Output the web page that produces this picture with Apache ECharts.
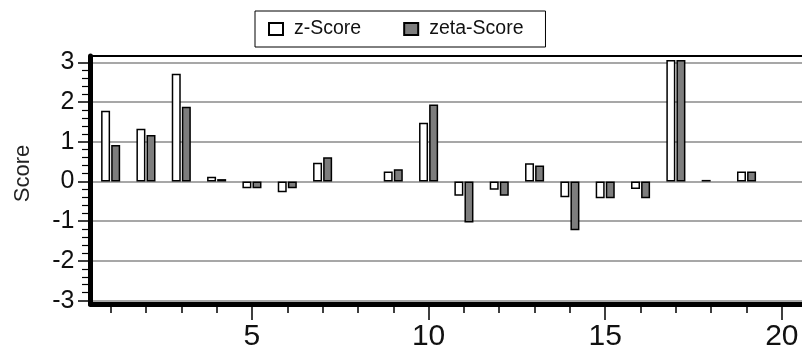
<!DOCTYPE html>
<html><head><meta charset="utf-8">
<script src="https://cdn.jsdelivr.net/npm/echarts@6/dist/echarts.min.js"></script>
<style>html,body{margin:0;padding:0;background:#fff}#c{width:802px;height:352px}</style>
</head><body><div id="c"></div>
<script>
const categories = [1,2,3,4,5,6,7,8,9,10,11,12,13,14,15,16,17,18,19,20];
const zScore    = [1.78, 1.33, 2.71, 0.12, -0.17, -0.27, 0.47, null, 0.25, 1.48, -0.36, -0.21, 0.46, -0.40, -0.42, -0.19, 3.06, 0.04, 0.25, null];
const zetaScore = [0.92, 1.17, 1.88, 0.06, -0.17, -0.17, 0.61, null, 0.31, 1.94, -1.03, -0.36, 0.40, -1.23, -0.42, -0.42, 3.06, null, 0.25, null];
const xTickValues = [1,2,3,4,5,6,7,8,9,10,11,12,13,14,15,16,17,18,19,20];
const xLabelValues = [5,10,15,20];
const yTickValues = [-3,-2,-1,0,1,2,3];
const yMinorValues = [-2.8,-2.6,-2.4,-2.2,-1.8,-1.6,-1.4,-1.2,-0.8,-0.6,-0.4,-0.2,0.2,0.4,0.6,0.8,1.2,1.4,1.6,1.8,2.2,2.4,2.6,2.8];

const FONT = 'Liberation Sans';
const X_MIN = 0.43, X_MAX = 20.57, Y_MIN = -3.085, Y_MAX = 3.16;

function pairs(vals) {
  return categories.map((c, i) => [c, vals[i]]).filter(d => d[1] !== null);
}

const chart = echarts.init(document.getElementById('c'), null, {renderer: 'canvas'});
chart.setOption({
  animation: false,
  backgroundColor: '#fff',
  textStyle: {fontFamily: FONT},
  legend: {
    left: 255, top: 11,
    padding: [8, 22, 8, 13],
    icon: 'rect',
    itemWidth: 14, itemHeight: 12, itemGap: 42,
    borderColor: '#000', borderWidth: 1,
    textStyle: {fontSize: 19.5, color: '#111', fontFamily: FONT, padding: [0, 0, 0, 6]},
    data: ['z-Score', 'zeta-Score']
  },
  grid: {left: 90.5, right: 0, top: 56, bottom: 48, containLabel: false},
  xAxis: [{
    type: 'value', min: X_MIN, max: X_MAX, position: 'bottom',
    axisLine: {show: true, onZero: false, lineStyle: {color: '#000', width: 5}},
    axisTick: {show: true, customValues: xTickValues, length: 9, lineStyle: {color: '#000', width: 1.5}},
    axisLabel: {customValues: xLabelValues, fontSize: 30, color: '#111', margin: 18, fontFamily: FONT},
    splitLine: {show: false}
  }, {
    type: 'value', min: X_MIN, max: X_MAX, position: 'bottom',
    axisLine: {show: false, onZero: false},
    axisTick: {show: true, customValues: xLabelValues, length: 16, lineStyle: {color: '#000', width: 1.5}},
    axisLabel: {show: false}, splitLine: {show: false}
  }, {
    type: 'value', min: X_MIN, max: X_MAX, position: 'top',
    axisLine: {show: true, onZero: false, lineStyle: {color: '#000', width: 2}},
    axisTick: {show: false}, axisLabel: {show: false}, splitLine: {show: false}
  }],
  yAxis: [{
    type: 'value', min: Y_MIN, max: Y_MAX, position: 'left',
    name: 'Score', nameLocation: 'middle', nameGap: 57, nameRotate: 90,
    nameTextStyle: {fontSize: 22, color: '#222', fontFamily: FONT, padding: [0, 0, 0, 13]},
    axisLine: {show: true, onZero: false, lineStyle: {color: '#000', width: 5}},
    axisTick: {show: true, customValues: yTickValues, length: 12.5, lineStyle: {color: '#000', width: 1.5}},
    axisLabel: {customValues: yTickValues, fontSize: 25, color: '#111', margin: 16, fontFamily: FONT},
    splitLine: {show: true, lineStyle: {color: '#8a8a8a', width: 1.5}}
  }, {
    type: 'value', min: Y_MIN, max: Y_MAX, position: 'left',
    axisLine: {show: false, onZero: false},
    axisTick: {show: true, customValues: yMinorValues, length: 8.5, lineStyle: {color: '#000', width: 1.2}},
    axisLabel: {show: false}, splitLine: {show: false}
  }],
  series: [{
    name: 'z-Score', type: 'bar', xAxisIndex: 0, yAxisIndex: 0,
    data: pairs(zScore), barWidth: 9, barGap: '12%', clip: false,
    itemStyle: {color: '#ffffff', borderColor: '#000', borderWidth: 1.5}
  }, {
    name: 'zeta-Score', type: 'bar', xAxisIndex: 0, yAxisIndex: 0,
    data: pairs(zetaScore), barWidth: 9, barGap: '12%', clip: false,
    itemStyle: {color: '#7d7d7d', borderColor: '#000', borderWidth: 1.5}
  }]
});
</script>
</body></html>
